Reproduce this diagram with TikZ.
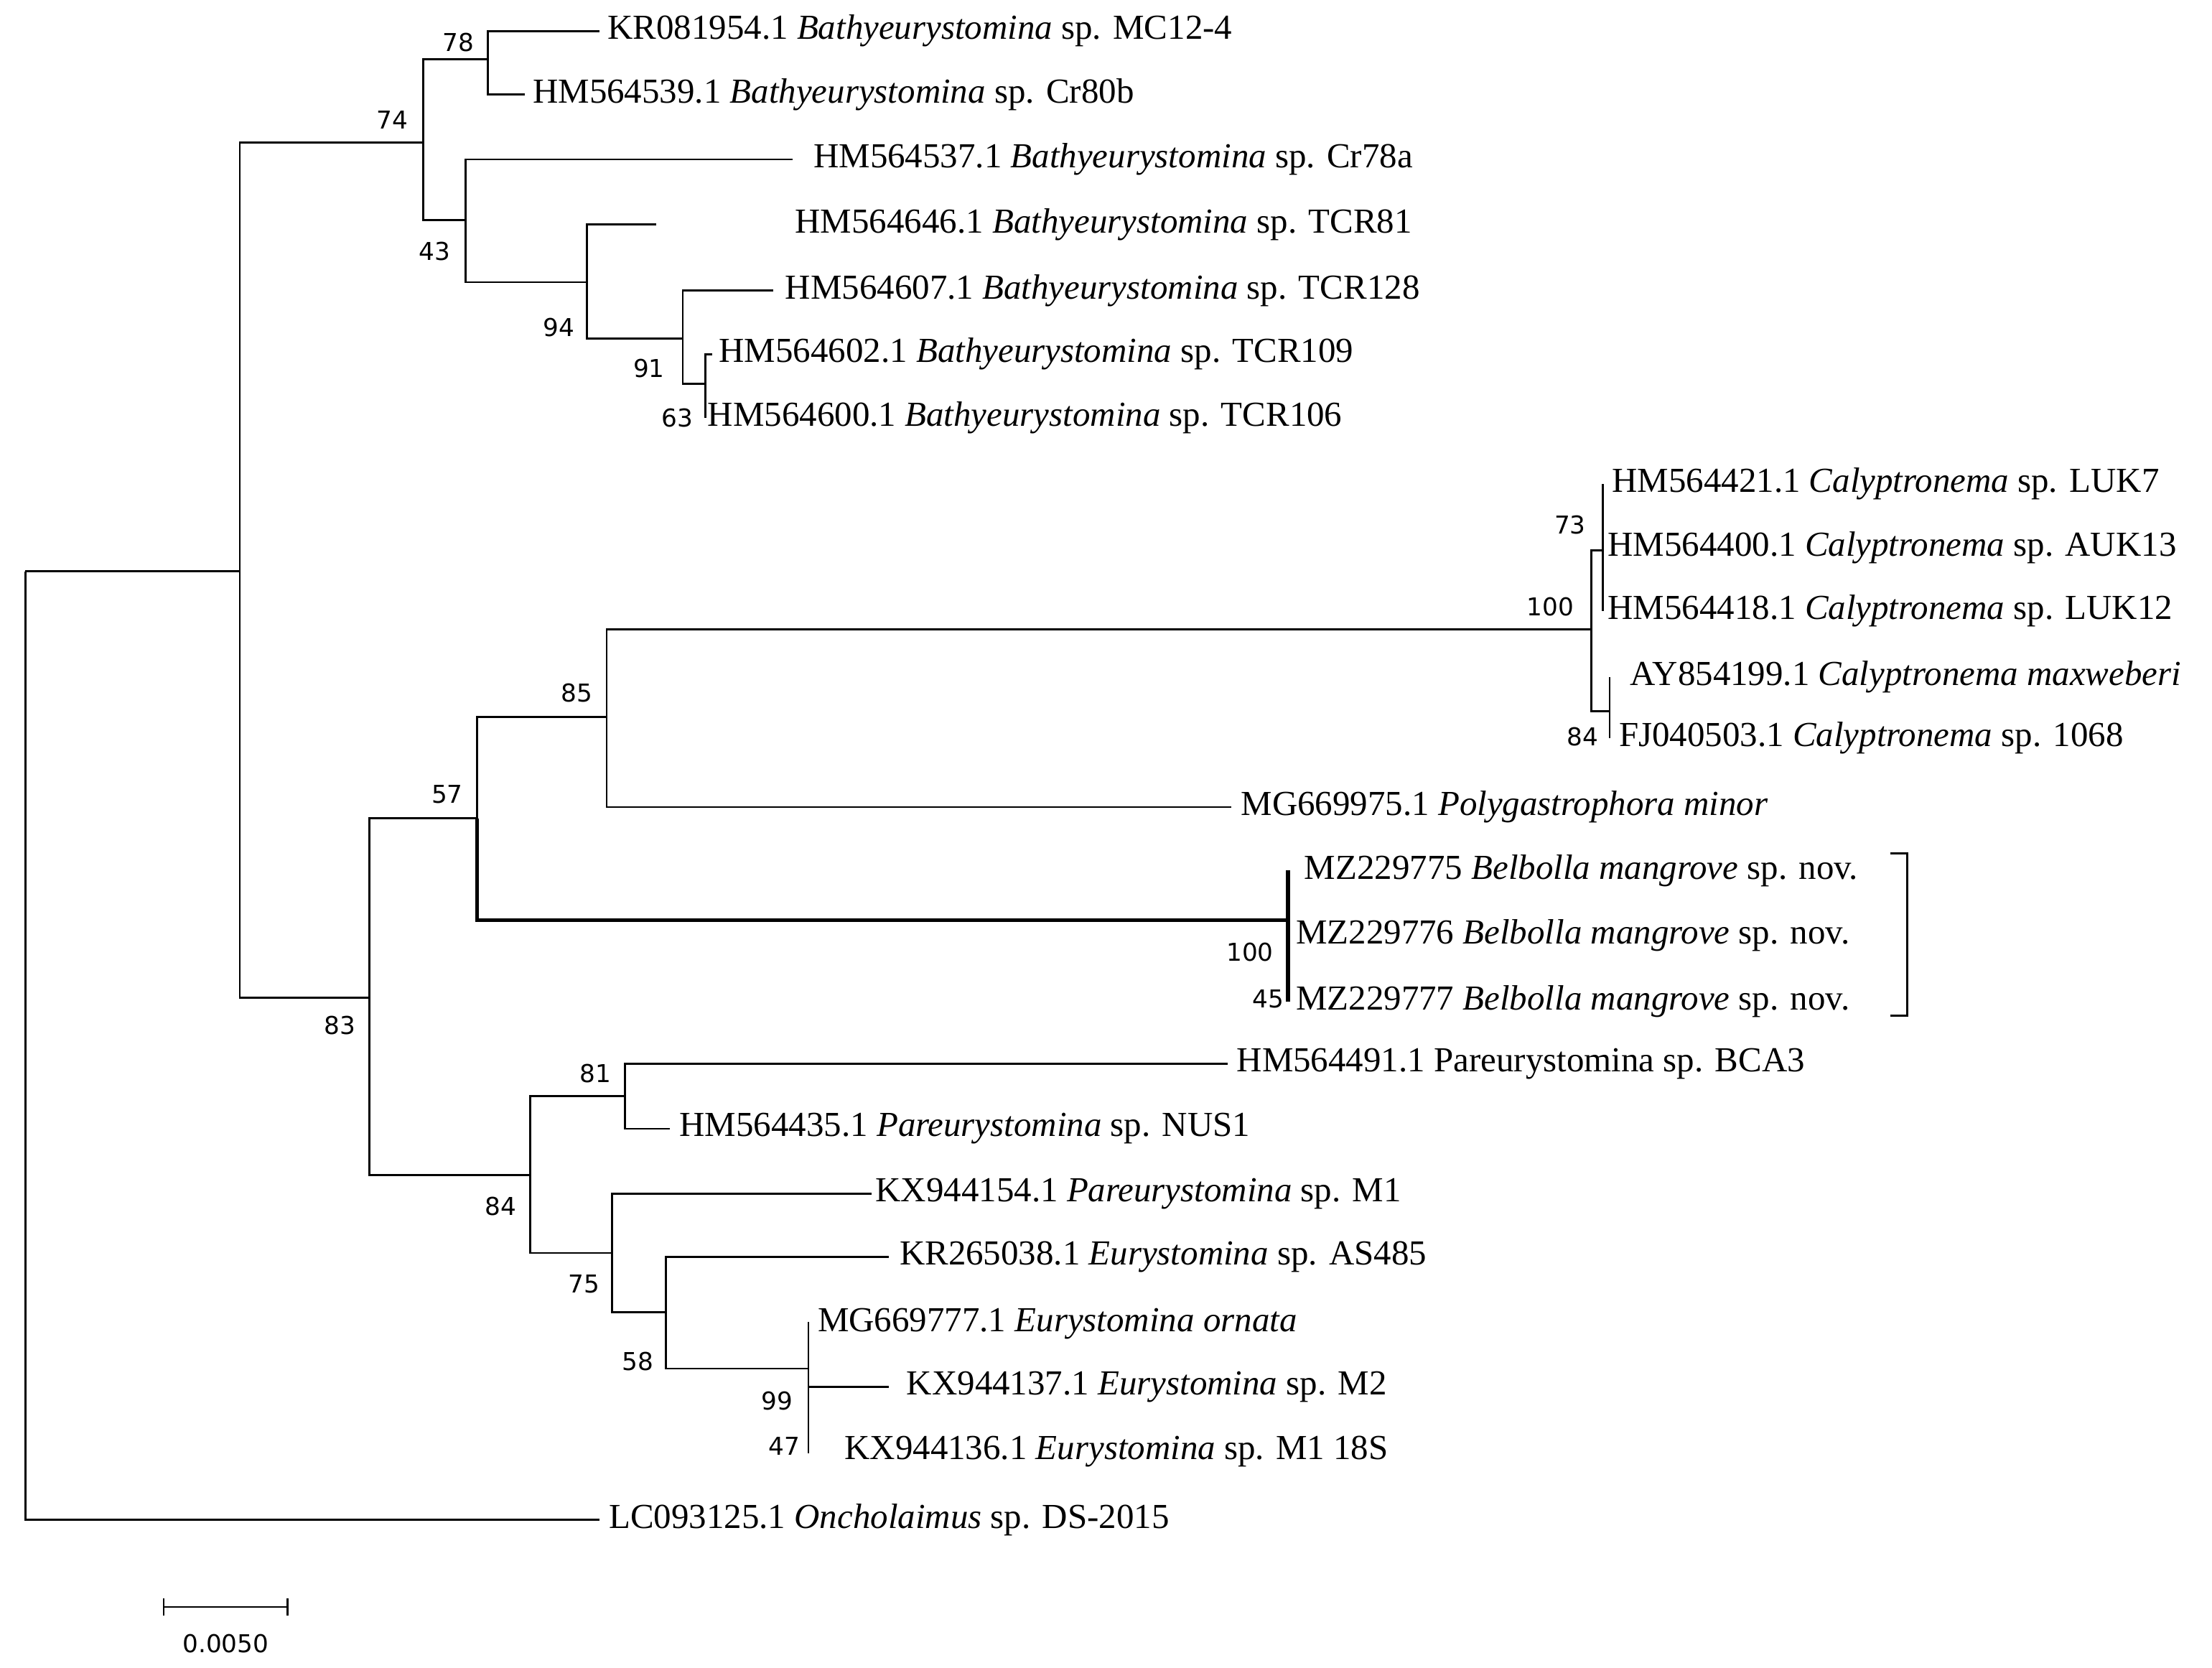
\documentclass[tikz,border=0pt]{standalone}
\usepackage{fontspec}
\setmainfont{Liberation Serif}
\newfontfamily\numf{DejaVu Sans}
\begin{document}
\begin{tikzpicture}[x=1bp,y=-1bp,line width=1.4bp,
  lf/.style={anchor=west,inner sep=0pt,font=\fontsize{25}{27}\selectfont},
  bs/.style={inner sep=0pt,font=\numf\fontsize{17.5}{19}\selectfont}]
\useasboundingbox (0,0) rectangle (1568,1182);
% internal nodes
\coordinate (r) at (18,405);
\coordinate (a) at (170,405);
\coordinate (u) at (300,101);
\coordinate (u1) at (346,42);
\coordinate (u2) at (330,156);
\coordinate (u3) at (416,200);
\coordinate (u4) at (484,240);
\coordinate (u5) at (500,272);
\coordinate (l) at (262,707);
\coordinate (m) at (338,580);
\coordinate (m1) at (430,508);
\coordinate (c) at (1128,446);
\coordinate (c1) at (1136,390);
\coordinate (c2) at (1141,504);
\coordinate (b) at (913,652);
\coordinate (p) at (376,833);
\coordinate (p1) at (443,777);
\coordinate (p2) at (434,888);
\coordinate (p3) at (472,930);
\coordinate (p4) at (573,970);
% leaves
\coordinate (t1) at (425,22);
\coordinate (t2) at (372,67);
\coordinate (t3) at (562,113);
\coordinate (t4) at (465,159);
\coordinate (t5) at (548,206);
\coordinate (t6) at (505,251);
\coordinate (t7) at (500,296);
\coordinate (k1) at (1136,343);
\coordinate (k2) at (1136,388);
\coordinate (k3) at (1136,433);
\coordinate (k4) at (1141,480);
\coordinate (k5) at (1141,523);
\coordinate (pg) at (873,572);
\coordinate (e1) at (913,617);
\coordinate (e2) at (913,663);
\coordinate (e3) at (913,710);
\coordinate (q1) at (870,754);
\coordinate (q2) at (475,800);
\coordinate (q3) at (618,846);
\coordinate (q4) at (630,891);
\coordinate (q5) at (573,937);
\coordinate (q6) at (630,983);
\coordinate (q7) at (573,1030);
\coordinate (o) at (425,1077);
% edges
\draw (r) |- (a);
\draw (r) |- (o);
\draw (a) |- (u); \draw (a) |- (l);
\draw (u) |- (u1); \draw (u) |- (u2);
\draw (u1) |- (t1); \draw (u1) |- (t2);
\draw (u2) |- (t3); \draw (u2) |- (u3);
\draw (u3) |- (t4); \draw (u3) |- (u4);
\draw (u4) |- (t5); \draw (u4) |- (u5);
\draw (u5) |- (t6); \draw (u5) |- (t7);
\draw (l) |- (m); \draw (l) |- (p);
\draw (m) |- (m1);
\draw[line width=2.6bp] (m) |- (b);
\draw (m1) |- (c); \draw (m1) |- (pg);
\draw (c) |- (c1); \draw (c) |- (c2);
\draw (c1) -- (k1); \draw (c1) -- (k3);
\draw (c2) -- (k4); \draw (c2) -- (k5);
\draw[line width=2.6bp] (e1) -- (e3);
\draw (p) |- (p1); \draw (p) |- (p2);
\draw (p1) |- (q1); \draw (p1) |- (q2);
\draw (p2) |- (q3); \draw (p2) |- (p3);
\draw (p3) |- (q4); \draw (p3) |- (p4);
\draw (q5) -- (q7);
\draw (p4 |- q6) -- (q6);
% leaf labels
\node[lf] (n1) at (430,22) {KR081954.1 \textit{Bathyeurystomina} sp. MC12-4};
\node[lf] (n2) at (377,67) {HM564539.1 \textit{Bathyeurystomina} sp. Cr80b};
\node[lf] (n3) at (576,113) {HM564537.1 \textit{Bathyeurystomina} sp. Cr78a};
\node[lf] (n4) at (563,159) {HM564646.1 \textit{Bathyeurystomina} sp. TCR81};
\node[lf] (n5) at (556,206) {HM564607.1 \textit{Bathyeurystomina} sp. TCR128};
\node[lf] (n6) at (509,251) {HM564602.1 \textit{Bathyeurystomina} sp. TCR109};
\node[lf] (n7) at (501,296) {HM564600.1 \textit{Bathyeurystomina} sp. TCR106};
\node[lf] (n8) at (1142,343) {HM564421.1 \textit{Calyptronema} sp. LUK7};
\node[lf] (n9) at (1139,388) {HM564400.1 \textit{Calyptronema} sp. AUK13};
\node[lf] (n10) at (1139,433) {HM564418.1 \textit{Calyptronema} sp. LUK12};
\node[lf] (n11) at (1155,480) {AY854199.1 \textit{Calyptronema maxweberi}};
\node[lf] (n12) at (1147,523) {FJ040503.1 \textit{Calyptronema} sp. 1068};
\node[lf] (n13) at (879,572) {MG669975.1 \textit{Polygastrophora minor}};
\node[lf] (n14) at (924,617) {MZ229775 \textit{Belbolla mangrove} sp. nov.};
\node[lf] (n15) at (918,663) {MZ229776 \textit{Belbolla mangrove} sp. nov.};
\node[lf] (n16) at (918,710) {MZ229777 \textit{Belbolla mangrove} sp. nov.};
\node[lf] (n17) at (876,754) {HM564491.1 Pareurystomina sp. BCA3};
\node[lf] (n18) at (481,800) {HM564435.1 \textit{Pareurystomina} sp. NUS1};
\node[lf] (n19) at (620,846) {KX944154.1 \textit{Pareurystomina} sp. M1};
\node[lf] (n20) at (637,891) {KR265038.1 \textit{Eurystomina} sp. AS485};
\node[lf] (n21) at (579,938) {MG669777.1 \textit{Eurystomina ornata}};
\node[lf] (n22) at (642,983) {KX944137.1 \textit{Eurystomina} sp. M2};
\node[lf] (n23) at (598,1029) {KX944136.1 \textit{Eurystomina} sp. M1 18S};
\node[lf] (n24) at (431,1077) {LC093125.1 \textit{Oncholaimus} sp. DS-2015};
% bracket
\coordinate (br1) at (1340,605); \coordinate (br2) at (1340,720);
\draw (br1) -- ++(12,0) |- (br2);
% bootstrap
\node[bs] (b1) at (278,85) {74};
\node[bs] (b2) at (325,30) {78};
\node[bs] (b3) at (308,178) {43};
\node[bs] (b4) at (396,232) {94};
\node[bs] (b5) at (460,261) {91};
\node[bs] (b6) at (480,296) {63};
\node[bs] (b7) at (241,727) {83};
\node[bs] (b8) at (317,563) {57};
\node[bs] (b9) at (409,491) {85};
\node[bs] (b10) at (1099,430) {100};
\node[bs] (b11) at (1113,372) {73};
\node[bs] (b12) at (1122,522) {84};
\node[bs] (b13) at (886,675) {100};
\node[bs] (b14) at (899,708) {45};
\node[bs] (b15) at (355,855) {84};
\node[bs] (b16) at (422,761) {81};
\node[bs] (b17) at (414,910) {75};
\node[bs] (b18) at (452,965) {58};
\node[bs] (b19) at (551,993) {99};
\node[bs] (b20) at (556,1025) {47};
% scale bar
\coordinate (s1) at (116,1139); \coordinate (s2) at (204,1139);
\draw (s1) -- (s2);
\draw (s1) ++(0,-6) -- ++(0,12);
\draw (s2) ++(0,-6) -- ++(0,12);
\node[bs] (sl) at (160,1165) {0.0050};
\end{tikzpicture}
\end{document}
